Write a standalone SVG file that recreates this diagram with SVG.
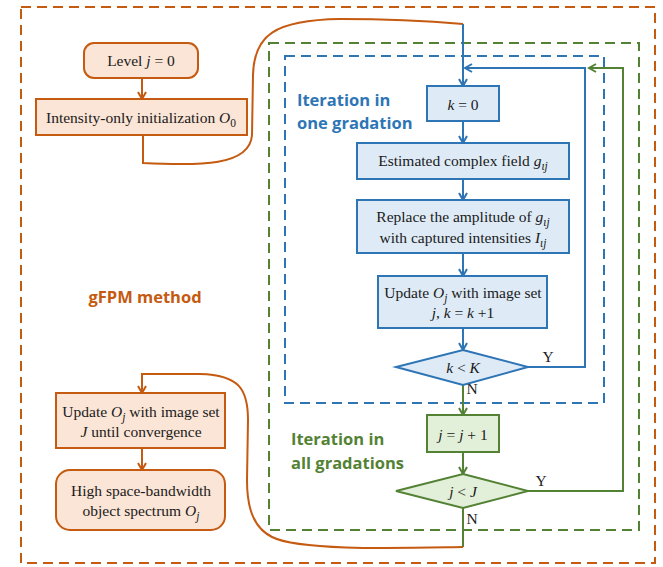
<svg xmlns="http://www.w3.org/2000/svg" width="663" height="567" viewBox="0 0 663 567">
<defs>
<style>
.t{font-family:"Liberation Serif","Times New Roman",serif;font-size:15.5px;fill:#1a1a1a;text-anchor:middle}
.i{font-style:italic}
.lab{font-family:"Open Sans","Liberation Sans",sans-serif;font-weight:bold;font-size:16.5px}
.or{fill:#FBE5D6;stroke:#C55A11;stroke-width:2}
.bl{fill:#DEEBF7;stroke:#2E75B6;stroke-width:2}
.gr{fill:#E2F0D9;stroke:#548235;stroke-width:2}
.co{fill:none;stroke:#C55A11;stroke-width:2}
.cb{fill:none;stroke:#2E75B6;stroke-width:2}
.cg{fill:none;stroke:#548235;stroke-width:2}
</style>
<marker id="ao" markerWidth="10" markerHeight="10" refX="8" refY="5" orient="auto" markerUnits="userSpaceOnUse"><path d="M1,1 L8,5 L1,9" fill="none" stroke="#C55A11" stroke-width="2"/></marker>
<marker id="ab" markerWidth="10" markerHeight="10" refX="8" refY="5" orient="auto" markerUnits="userSpaceOnUse"><path d="M1,1 L8,5 L1,9" fill="none" stroke="#2E75B6" stroke-width="2"/></marker>
<marker id="ag" markerWidth="10" markerHeight="10" refX="8" refY="5" orient="auto" markerUnits="userSpaceOnUse"><path d="M1,1 L8,5 L1,9" fill="none" stroke="#548235" stroke-width="2"/></marker>
</defs>
<rect width="663" height="567" fill="#fff"/>

<g id="frames">
<rect x="21" y="7" width="634" height="556" fill="none" stroke="#C55A11" stroke-width="2" stroke-dasharray="10,6"/>
<rect x="269" y="43" width="370" height="487" fill="none" stroke="#548235" stroke-width="2" stroke-dasharray="10,6"/>
<rect x="285" y="56" width="319" height="347" fill="none" stroke="#2E75B6" stroke-width="2" stroke-dasharray="10,6"/>
</g>

<g id="labels">
<text class="lab" x="145" y="303" fill="#C55A11" text-anchor="middle" font-size="17.5">gFPM method</text>
<text class="lab" x="297" y="106" fill="#2E75B6">Iteration in</text>
<text class="lab" x="297" y="129" fill="#2E75B6">one gradation</text>
<text class="lab" x="291" y="445" fill="#548235">Iteration in</text>
<text class="lab" x="291" y="469" fill="#548235">all gradations</text>
</g>

<g id="connectors">
<line class="co" x1="142" y1="78" x2="142" y2="99" marker-end="url(#ao)"/>
<path class="co" d="M143,135 L143,163 C200,166 250,166 252,135 L253,75 C254,35 275,20 340,19 C400,19 440,22 463,24"/>
<line class="cb" x1="463" y1="24" x2="463" y2="86" marker-end="url(#ab)"/>
<line class="cb" x1="463" y1="121" x2="463" y2="143" marker-end="url(#ab)"/>
<line class="cb" x1="463" y1="179" x2="463" y2="200" marker-end="url(#ab)"/>
<line class="cb" x1="463" y1="253" x2="463" y2="276" marker-end="url(#ab)"/>
<line class="cb" x1="463" y1="328" x2="463" y2="350" marker-end="url(#ab)"/>
<path class="cb" d="M528,367 L585,367 L585,68 L465,68" marker-end="url(#ab)"/>
<path class="cg" d="M528,491 L623,491 L623,68 L589,68" marker-end="url(#ag)"/>
<line class="cg" x1="463" y1="385" x2="463" y2="415" marker-end="url(#ag)"/>
<line class="cg" x1="463" y1="452" x2="463" y2="474" marker-end="url(#ag)"/>
<line class="cg" x1="463" y1="508" x2="463" y2="547"/>
<path class="co" d="M463,547 C400,548 300,551 272,537 C252,527 247,505 247,480 L248,420 C248,390 240,375 200,374 L142,374 L142,393" marker-end="url(#ao)"/>
<line class="co" x1="142" y1="448" x2="142" y2="470" marker-end="url(#ao)"/>
<text class="t" x="548" y="362">Y</text>
<text class="t" x="472" y="394">N</text>
<text class="t" x="541" y="486">Y</text>
<text class="t" x="472" y="524">N</text>
</g>

<g id="n-level">
<rect class="or" x="84" y="43" width="114" height="35" rx="10"/>
<text class="t" x="141" y="66">Level  <tspan class="i">j</tspan> = 0</text>
</g>
<g id="n-init">
<rect class="or" x="36" y="99" width="211" height="36"/>
<text class="t" x="141" y="123">Intensity-only initialization <tspan class="i">O</tspan><tspan font-size="11.5" dy="4">0</tspan></text>
</g>
<g id="n-k0">
<rect class="bl" x="427" y="86" width="72" height="35"/>
<text class="t" x="463" y="110"><tspan class="i">k</tspan> = 0</text>
</g>
<g id="n-est">
<rect class="bl" x="357" y="143" width="212" height="36"/>
<text class="t" x="463" y="166">Estimated complex field <tspan class="i">g</tspan><tspan class="i" font-size="11.5" dy="4">ιj</tspan></text>
</g>
<g id="n-replace">
<rect class="bl" x="357" y="200" width="212" height="53"/>
<text class="t" x="463" y="222">Replace the amplitude of <tspan class="i">g</tspan><tspan class="i" font-size="11.5" dy="4">ιj</tspan></text>
<text class="t" x="463" y="243">with captured intensities <tspan class="i">I</tspan><tspan class="i" font-size="11.5" dy="4">ιj</tspan></text>
</g>
<g id="n-update">
<rect class="bl" x="378" y="276" width="169" height="52"/>
<text class="t" x="463" y="298">Update <tspan class="i">O</tspan><tspan class="i" font-size="11.5" dy="4">j</tspan><tspan dy="-4"> with image set</tspan></text>
<text class="t" x="463" y="318"><tspan class="i">j</tspan>, <tspan class="i">k</tspan> = <tspan class="i">k</tspan> +1</text>
</g>
<g id="n-kK">
<polygon class="bl" points="463,350 528,367 463,385 396,367"/>
<text class="t" x="463" y="373"><tspan class="i">k</tspan> &lt; <tspan class="i">K</tspan></text>
</g>
<g id="n-jinc">
<rect class="gr" x="427" y="415" width="72" height="37"/>
<text class="t" x="463" y="440"><tspan class="i">j</tspan> = <tspan class="i">j</tspan> + 1</text>
</g>
<g id="n-jJ">
<polygon class="gr" points="463,474 528,491 463,508 396,491"/>
<text class="t" x="463" y="497"><tspan class="i">j</tspan> &lt; <tspan class="i">J</tspan></text>
</g>
<g id="n-final-update">
<rect class="or" x="56" y="393" width="169" height="55"/>
<text class="t" x="141" y="417">Update <tspan class="i">O</tspan><tspan class="i" font-size="11.5" dy="4">j</tspan><tspan dy="-4"> with image set</tspan></text>
<text class="t" x="141" y="437"><tspan class="i">J</tspan> until convergence</text>
</g>
<g id="n-result">
<rect class="or" x="56" y="470" width="169" height="60" rx="14"/>
<text class="t" x="141" y="496">High space-bandwidth</text>
<text class="t" x="141" y="516">object spectrum <tspan class="i">O</tspan><tspan class="i" font-size="11.5" dy="4">j</tspan></text>
</g>
</svg>
